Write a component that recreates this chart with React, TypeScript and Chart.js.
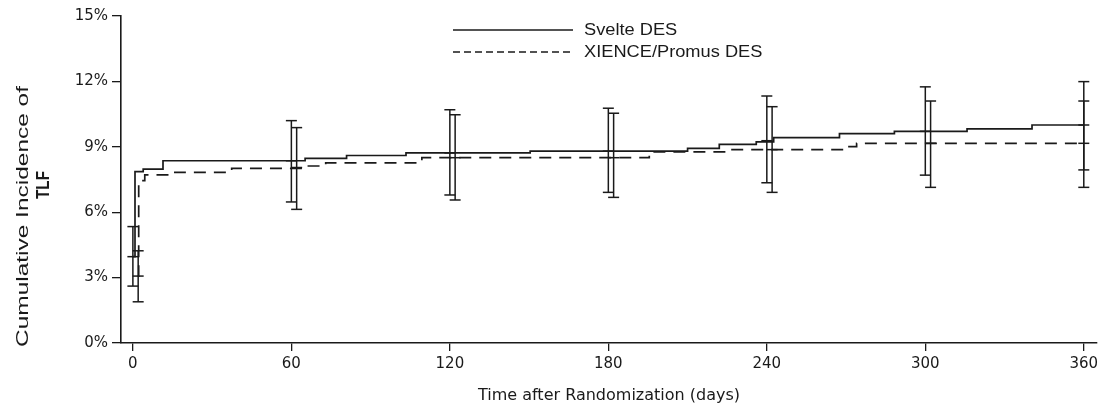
import { useEffect, useRef } from 'react';
import { Chart, registerables } from 'chart.js';

Chart.register(...registerables);

// Kaplan–Meier style cumulative incidence (%), step points (day, value after event)
const SVELTE_DAYS = [0, 0.8, 3.9, 11.4, 65.2, 80.9, 103.4, 150.4, 210, 222, 236, 242.6, 267.5, 288.3, 315.8, 340.4, 360];
const SVELTE_CUM = [3.96, 7.86, 7.98, 8.36, 8.47, 8.6, 8.72, 8.8, 8.93, 9.11, 9.23, 9.42, 9.6, 9.71, 9.82, 10.0, 10.0];
const XIENCE_DAYS = [1.8, 2.2, 4.5, 15.9, 37.4, 65, 73, 109.4, 195.5, 226, 269, 274, 360];
const XIENCE_CUM = [3.07, 7.45, 7.71, 7.83, 8.01, 8.12, 8.26, 8.5, 8.77, 8.87, 9.01, 9.16, 9.16];

// Confidence intervals
const SVELTE_CI_DAYS = [0, 60, 120, 180, 240, 300, 360];
const SVELTE_CI_LO = [2.61, 6.47, 6.79, 6.91, 7.35, 7.7, 7.94];
const SVELTE_CI_MID = [3.96, 8.36, 8.72, 8.8, 9.28, 9.71, 10.0];
const SVELTE_CI_HI = [5.34, 10.2, 10.7, 10.77, 11.33, 11.75, 11.99];
const XIENCE_CI_DAYS = [2, 62, 122, 182, 242, 302, 360];
const XIENCE_CI_LO = [1.89, 6.13, 6.56, 6.68, 6.91, 7.14, 7.14];
const XIENCE_CI_MID = [3.07, 8.05, 8.5, 8.5, 8.87, 9.16, 9.16];
const XIENCE_CI_HI = [4.23, 9.88, 10.47, 10.54, 10.84, 11.1, 11.1];

const X_TICKS = [0, 60, 120, 180, 240, 300, 360];
const Y_TICKS = [0, 3, 6, 9, 12, 15];
const LEGEND_LABELS = ['Svelte DES', 'XIENCE/Promus DES'];
const Y_TITLE = ['Cumulative Incidence of', 'TLF'];
const X_TITLE = 'Time after Randomization (days)';

const INK = '#1a1a1a';

function ciPoints(days: number[], lo: number[], mid: number[], hi: number[]) {
  const pts: { x: number; y: number | null }[] = [];
  days.forEach((d, i) => {
    pts.push({ x: d, y: lo[i] }, { x: d, y: mid[i] }, { x: d, y: hi[i] }, { x: d, y: null });
  });
  return pts;
}

const overlayPlugin = {
  id: 'overlay',
  afterDraw(chart: any) {
    const ctx = chart.ctx as CanvasRenderingContext2D;
    ctx.save();
    ctx.fillStyle = INK;
    ctx.strokeStyle = INK;
    // Legend
    const rows = [
      { y: 30, dash: [] as number[], label: LEGEND_LABELS[0] },
      { y: 52, dash: [7, 4], label: LEGEND_LABELS[1] },
    ];
    ctx.font = '16px "Liberation Sans", Arial, sans-serif';
    ctx.textBaseline = 'middle';
    ctx.textAlign = 'left';
    rows.forEach((r) => {
      ctx.save();
      ctx.lineWidth = 1.6;
      ctx.setLineDash(r.dash);
      ctx.beginPath();
      ctx.moveTo(453, r.y);
      ctx.lineTo(573, r.y);
      ctx.stroke();
      ctx.restore();
      ctx.save();
      ctx.translate(584, r.y + 1);
      ctx.scale(1.14, 1);
      ctx.fillText(r.label, 0, 0);
      ctx.restore();
    });
    // Y title (rotated)
    ctx.textAlign = 'center';
    ctx.textBaseline = 'alphabetic';
    const lines = [
      { text: Y_TITLE[0], font: '17px "Liberation Sans", Arial, sans-serif', x: 28, y: 216.5, len: 261 },
      { text: Y_TITLE[1], font: 'bold 18px "Liberation Sans", Arial, sans-serif', x: 49, y: 185, len: 28 },
    ];
    lines.forEach((l) => {
      ctx.save();
      ctx.font = l.font;
      const w = ctx.measureText(l.text).width;
      ctx.translate(l.x, l.y);
      ctx.rotate(-Math.PI / 2);
      ctx.scale(l.len / w, 1);
      ctx.fillText(l.text, 0, 0);
      ctx.restore();
    });
    ctx.restore();
  },
};

export default function App() {
  const ref = useRef<HTMLCanvasElement | null>(null);
  useEffect(() => {
    if (!ref.current) return;
    const svelte = SVELTE_DAYS.map((d, i) => ({ x: d, y: SVELTE_CUM[i] }));
    const xience = XIENCE_DAYS.map((d, i) => ({ x: d, y: XIENCE_CUM[i] }));
    const ciStyle = {
      borderColor: INK,
      borderWidth: 1.5,
      pointStyle: 'line',
      pointRadius: 5.5,
      pointBorderWidth: 1.5,
      pointBorderColor: INK,
      pointHoverRadius: 5.5,
      spanGaps: false,
      fill: false,
    };
    const chart = new Chart(ref.current, {
      type: 'line',
      data: {
        datasets: [
          {
            label: LEGEND_LABELS[0],
            data: svelte,
            stepped: 'before',
            borderColor: INK,
            borderWidth: 1.7,
            pointRadius: 0,
            fill: false,
          },
          {
            label: LEGEND_LABELS[1],
            data: xience,
            stepped: 'before',
            borderColor: INK,
            borderWidth: 1.7,
            borderDash: [12, 8],
            pointRadius: 0,
            fill: false,
          },
          {
            label: 'Svelte CI',
            data: ciPoints(SVELTE_CI_DAYS, SVELTE_CI_LO, SVELTE_CI_MID, SVELTE_CI_HI),
            ...ciStyle,
          } as any,
          {
            label: 'XIENCE CI',
            data: ciPoints(XIENCE_CI_DAYS, XIENCE_CI_LO, XIENCE_CI_MID, XIENCE_CI_HI),
            ...ciStyle,
          } as any,
        ],
      },
      options: {
        responsive: false,
        animation: false,
        devicePixelRatio: 1,
        layout: { padding: { top: 16, right: 16, left: 0, bottom: 0 } },
        plugins: {
          legend: { display: false },
          tooltip: { enabled: false },
        },
        scales: {
          x: {
            type: 'linear',
            min: -4.5,
            max: 365,
            afterBuildTicks: (scale: any) => {
              scale.ticks = X_TICKS.map((v) => ({ value: v }));
            },
            afterFit: (scale: any) => {
              scale.height = 63;
            },
            grid: {
              drawOnChartArea: false,
              drawTicks: true,
              tickLength: 8,
              color: INK,
              lineWidth: 1.3,
            },
            border: { display: true, color: INK, width: 1.6 },
            ticks: {
              color: INK,
              padding: 4,
              maxRotation: 0,
              font: { family: '"DejaVu Sans", sans-serif', size: 15 },
              callback: (v: any) => String(v),
            },
            title: {
              display: true,
              text: X_TITLE,
              color: INK,
              font: { family: '"DejaVu Sans", sans-serif', size: 16 },
              padding: { top: 4, bottom: 1 },
            },
          },
          y: {
            type: 'linear',
            min: 0,
            max: 15,
            afterBuildTicks: (scale: any) => {
              scale.ticks = Y_TICKS.map((v) => ({ value: v }));
            },
            afterFit: (scale: any) => {
              scale.width = 121;
            },
            grid: {
              drawOnChartArea: false,
              drawTicks: true,
              tickLength: 9,
              color: INK,
              lineWidth: 1.3,
            },
            border: { display: true, color: INK, width: 1.6 },
            ticks: {
              color: INK,
              padding: 4,
              font: { family: '"DejaVu Sans", sans-serif', size: 15 },
              callback: (v: any) => v + '%',
            },
            title: { display: false },
          },
        },
      } as any,
      plugins: [overlayPlugin],
    });
    return () => chart.destroy();
  }, []);
  return (
    <div style={{ position: 'absolute', left: 0, top: 0, width: 1113, height: 406, background: '#fff' }}>
      <canvas ref={ref} width={1113} height={406} style={{ display: 'block' }} />
    </div>
  );
}
